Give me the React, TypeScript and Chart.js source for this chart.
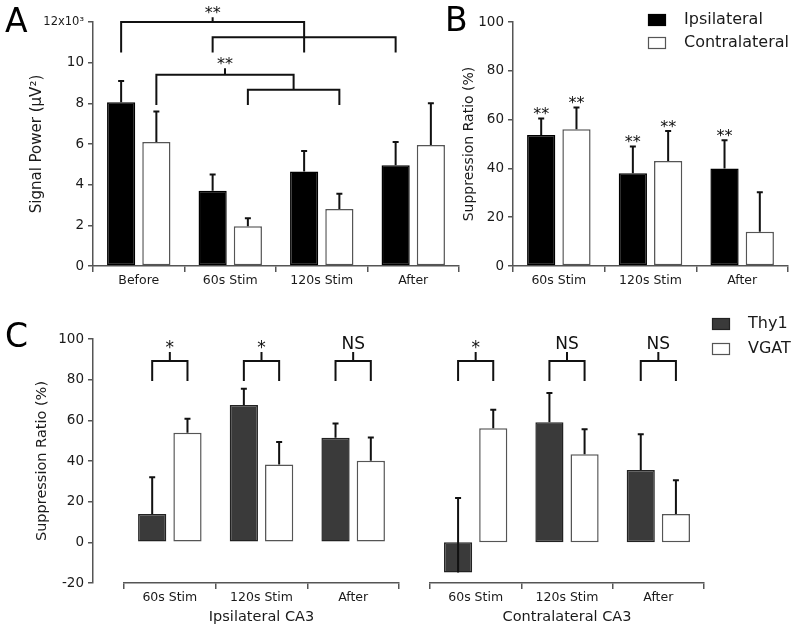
import React, { useEffect, useRef } from 'react';
import { Chart, registerables } from 'chart.js';

Chart.register(...registerables);

const FONT = '"DejaVu Sans", "Liberation Sans", sans-serif';
const TEXT = '#1a1a1a';
const AXIS = '#555555';
const INK = '#111111';

// ---------- Panel A ----------
const aCategories = ['Before', '60s Stim', '120s Stim', 'After'];
const aIpsi = [8.05, 3.7, 4.65, 4.95];
const aIpsiErr = [9.1, 4.5, 5.65, 6.1];
const aContra = [6.1, 1.95, 2.8, 5.95];
const aContraErr = [7.6, 2.35, 3.55, 8.0];
const aTickValues = [0, 2, 4, 6, 8, 10, 12];
const aTickLabels = ['0', '2', '4', '6', '8', '10', '12x10³'];
// brackets: [dataset, category] refs (or pair of refs = midpoint), values in axis units
const aBrackets = [
  { left: [0, 0], right: [0, 2], y: 12, leftEnd: 10.5, rightEnd: 10.5, tick: 12.23, label: '**' },
  { left: [0, 1], right: [0, 3], y: 11.25, leftEnd: 10.5, rightEnd: 10.5, tick: null, label: '' },
  { left: [1, 0], right: [[1, 1], [1, 2]], y: 9.41, leftEnd: 7.92, rightEnd: 8.67, tick: 9.72, label: '**' },
  { left: [1, 1], right: [1, 2], y: 8.67, leftEnd: 7.92, rightEnd: 7.92, tick: null, label: '' },
];

// ---------- Panel B ----------
const bCategories = ['60s Stim', '120s Stim', 'After'];
const bIpsi = [53.7, 38, 40];
const bIpsiErr = [60.5, 49, 51.5];
const bContra = [56, 43, 14];
const bContraErr = [65, 55.3, 30.2];
const bIpsiSig = ['**', '**', '**'];
const bContraSig = ['**', '**', ''];
const bTickValues = [0, 20, 40, 60, 80, 100];
const bTickLabels = ['0', '20', '40', '60', '80', '100'];

// ---------- Panel C ----------
const cCategories = ['60s Stim', '120s Stim', 'After'];
const cIpsiThy1 = [13.9, 67.6, 51.4];
const cIpsiThy1Err = [32, 75.5, 58.5];
const cIpsiVgat = [53.9, 38.3, 40.1];
const cIpsiVgatErr = [60.8, 49.3, 51.5];
const cContraThy1 = [-14.8, 59, 35.6];
const cContraThy1Err = [21.8, 73.5, 53.2];
const cContraVgat = [56.1, 43.3, 13.9];
const cContraVgatErr = [65.2, 55.6, 30.5];
const cIpsiSig = ['*', '*', 'NS'];
const cContraSig = ['*', 'NS', 'NS'];
const cTickValues = [-20, 0, 20, 40, 60, 80, 100];
const cTickLabels = ['-20', '0', '20', '40', '60', '80', '100'];
const cBracketY = 89.2;
const cBracketEnd = 79.3;
const cBracketTick = 93.6;

const BLACK = '#000000';
const WHITE = '#ffffff';
const THY1 = '#3a3a3a';

function drawInkBottom(ctx: CanvasRenderingContext2D, text: string, x: number, bottom: number) {
  ctx.textAlign = 'center';
  ctx.textBaseline = 'alphabetic';
  const m = ctx.measureText(text);
  ctx.fillText(text, x, bottom - m.actualBoundingBoxDescent);
}

function makeOverlay(cfg: any) {
  return {
    id: 'overlay',
    afterDraw(chart: any) {
      const ctx: CanvasRenderingContext2D = chart.ctx;
      const ys = chart.scales.y;
      const barX = (r: number[]) => chart.getDatasetMeta(r[0]).data[r[1]].x;
      const refX = (r: any) => (Array.isArray(r[0]) ? (barX(r[0]) + barX(r[1])) / 2 : barX(r));
      ctx.save();
      ctx.lineCap = 'butt';
      // error bars
      ctx.strokeStyle = INK;
      ctx.fillStyle = INK;
      ctx.lineWidth = 2;
      ctx.font = `${cfg.sigSize || 16}px ${FONT}`;
      (cfg.errors || []).forEach((errs: number[], di: number) => {
        const meta = chart.getDatasetMeta(di);
        meta.data.forEach((bar: any, i: number) => {
          const yTop = ys.getPixelForValue(errs[i]);
          ctx.beginPath();
          ctx.moveTo(bar.x, bar.y);
          ctx.lineTo(bar.x, yTop);
          ctx.moveTo(bar.x - 3, yTop);
          ctx.lineTo(bar.x + 3, yTop);
          ctx.stroke();
          const lab = cfg.sig && cfg.sig[di] ? cfg.sig[di][i] : '';
          if (lab) drawInkBottom(ctx, lab, bar.x, yTop - 3.5);
        });
      });
      // brackets
      (cfg.brackets || []).forEach((b: any) => {
        const xl = refX(b.left);
        const xr = refX(b.right);
        const y = ys.getPixelForValue(b.y);
        ctx.beginPath();
        ctx.moveTo(xl, ys.getPixelForValue(b.leftEnd));
        ctx.lineTo(xl, y);
        ctx.lineTo(xr, y);
        ctx.lineTo(xr, ys.getPixelForValue(b.rightEnd));
        if (b.tick != null) {
          const xm = (xl + xr) / 2;
          ctx.moveTo(xm, y);
          ctx.lineTo(xm, ys.getPixelForValue(b.tick));
        }
        ctx.stroke();
        if (b.label) {
          ctx.font = `${b.size || cfg.sigSize || 16}px ${FONT}`;
          drawInkBottom(ctx, b.label, (xl + xr) / 2, ys.getPixelForValue(b.tick) - 3);
        }
      });
      // panel letter
      if (cfg.letter) {
        ctx.fillStyle = '#000';
        ctx.font = `33px ${FONT}`;
        ctx.textAlign = 'left';
        ctx.textBaseline = 'alphabetic';
        ctx.fillText(cfg.letter.text, cfg.letter.x, cfg.letter.y);
      }
      // legend
      if (cfg.legend) {
        const L = cfg.legend;
        ctx.font = `16px ${FONT}`;
        ctx.textAlign = 'left';
        ctx.textBaseline = 'middle';
        L.items.forEach((it: any, k: number) => {
          const top = L.y + k * L.rowH;
          ctx.fillStyle = it.fill;
          ctx.fillRect(L.x, top, 18, 12);
          ctx.strokeStyle = it.border;
          ctx.lineWidth = 1.2;
          ctx.strokeRect(L.x + 0.5, top + 0.5, 17, 11);
          ctx.fillStyle = TEXT;
          ctx.fillText(it.label, L.x + 36, top + 6);
        });
      }
      ctx.restore();
    },
  };
}

function yAxis(o: any) {
  return {
    type: 'linear',
    position: 'left',
    display: true,
    min: o.min,
    max: o.max,
    weight: o.weight || 0,
    ticks: {
      stepSize: o.step,
      color: TEXT,
      padding: 4,
      font: (c: any) => ({ family: FONT, size: o.smallTop && c && c.tick && c.tick.value === o.max ? 11.5 : 13.5 }),
      callback: (v: number) => {
        const k = o.values.indexOf(v);
        return k >= 0 ? o.labels[k] : '';
      },
    },
    grid: { display: true, drawOnChartArea: false, drawTicks: true, tickLength: 5, color: AXIS, lineWidth: 1.5 },
    border: { display: true, color: AXIS, width: 1.5 },
    title: {
      display: true,
      text: o.title,
      color: TEXT,
      font: { family: FONT, size: o.titleSize },
      padding: { top: o.titlePad, bottom: 0 },
    },
    afterFit: (s: any) => {
      s.width = o.width;
    },
  };
}

function xAxis(o: any) {
  return {
    type: 'category',
    offset: true,
    ticks: { color: TEXT, font: { family: FONT, size: 12.5 }, padding: 1, maxRotation: 0, autoSkip: false },
    grid: { display: true, offset: true, drawOnChartArea: false, drawTicks: true, tickLength: 6, color: AXIS, lineWidth: 1.5 },
    border: { display: true, color: AXIS, width: 1.5 },
    title: {
      display: !!o.title,
      text: o.title || '',
      color: TEXT,
      font: { family: FONT, size: 14.5 },
      padding: { top: 0, bottom: o.titlePad || 0 },
    },
    afterFit: (s: any) => {
      s.height = o.height;
    },
  };
}

function ds(label: string, data: number[], fill: string, border: string) {
  return {
    label,
    data,
    backgroundColor: fill,
    borderColor: border,
    borderWidth: 1.5,
    borderSkipped: false,
    categoryPercentage: 0.77,
    barPercentage: 0.8,
  };
}

const baseOptions = (padding: any, scales: any) => ({
  responsive: false,
  animation: false,
  devicePixelRatio: 1,
  layout: { padding },
  plugins: { legend: { display: false }, tooltip: { enabled: false } },
  scales,
});

function makeA() {
  return {
    type: 'bar',
    data: {
      labels: aCategories,
      datasets: [ds('Ipsilateral', aIpsi, BLACK, BLACK), ds('Contralateral', aContra, WHITE, AXIS)],
    },
    options: baseOptions(
      { left: 0, top: 22, right: 11, bottom: 0 },
      {
        x: xAxis({ height: 34 }),
        y: yAxis({
          min: 0, max: 12, step: 2, values: aTickValues, labels: aTickLabels, smallTop: true,
          width: 93, title: 'Signal Power (μV²)', titleSize: 15, titlePad: 28,
        }),
      }
    ),
    plugins: [
      makeOverlay({
        errors: [aIpsiErr, aContraErr],
        brackets: aBrackets,
        sigSize: 16,
        letter: { text: 'A', x: 5, y: 32 },
      }),
    ],
  };
}

function makeB() {
  return {
    type: 'bar',
    data: {
      labels: bCategories,
      datasets: [ds('Ipsilateral', bIpsi, BLACK, BLACK), ds('Contralateral', bContra, WHITE, AXIS)],
    },
    options: baseOptions(
      { left: 0, top: 22, right: 12, bottom: 0 },
      {
        x: xAxis({ height: 34 }),
        y: yAxis({
          min: 0, max: 100, step: 20, values: bTickValues, labels: bTickLabels,
          width: 73, title: 'Suppression Ratio (%)', titleSize: 14, titlePad: 21,
        }),
      }
    ),
    plugins: [
      makeOverlay({
        errors: [bIpsiErr, bContraErr],
        sig: [bIpsiSig, bContraSig],
        sigSize: 16,
        letter: { text: 'B', x: 5, y: 31 },
        legend: {
          x: 208, y: 14, rowH: 23,
          items: [
            { label: 'Ipsilateral', fill: BLACK, border: BLACK },
            { label: 'Contralateral', fill: WHITE, border: AXIS },
          ],
        },
      }),
    ],
  };
}

function cBrackets(labels: string[]) {
  return labels.map((label, i) => ({
    left: [0, i], right: [1, i], y: cBracketY, leftEnd: cBracketEnd, rightEnd: cBracketEnd,
    tick: cBracketTick, label, size: label === 'NS' ? 17 : 17,
  }));
}

function makeCLeft() {
  return {
    type: 'bar',
    data: {
      labels: cCategories,
      datasets: [ds('Thy1', cIpsiThy1, THY1, '#222'), ds('VGAT', cIpsiVgat, WHITE, AXIS)],
    },
    options: baseOptions(
      { left: 0, top: 39, right: 21, bottom: 0 },
      {
        x: xAxis({ height: 47, title: 'Ipsilateral CA3', titlePad: 4 }),
        y: yAxis({
          min: -20, max: 100, step: 20, values: cTickValues, labels: cTickLabels, weight: 2,
          width: 93, title: 'Suppression Ratio (%)', titleSize: 14.5, titlePad: 34,
        }),
        y2: {
          type: 'linear', position: 'left', weight: 1, display: true,
          grid: { display: false }, border: { display: false }, ticks: { display: false },
          afterFit: (s: any) => { s.width = 31; },
        },
      }
    ),
    plugins: [
      makeOverlay({
        errors: [cIpsiThy1Err, cIpsiVgatErr],
        brackets: cBrackets(cIpsiSig),
        letter: { text: 'C', x: 5, y: 47 },
      }),
    ],
  };
}

function makeCRight() {
  return {
    type: 'bar',
    data: {
      labels: cCategories,
      datasets: [ds('Thy1', cContraThy1, THY1, '#222'), ds('VGAT', cContraVgat, WHITE, AXIS)],
    },
    options: baseOptions(
      { left: 30, top: 39, right: 96, bottom: 0 },
      {
        x: xAxis({ height: 47, title: 'Contralateral CA3', titlePad: 4 }),
        y: { type: 'linear', display: false, min: -20, max: 100 },
      }
    ),
    plugins: [
      makeOverlay({
        errors: [cContraThy1Err, cContraVgatErr],
        brackets: cBrackets(cContraSig),
        legend: {
          x: 312, y: 18, rowH: 25,
          items: [
            { label: 'Thy1', fill: THY1, border: '#222' },
            { label: 'VGAT', fill: WHITE, border: AXIS },
          ],
        },
      }),
    ],
  };
}

function ChartBox({ left, top, width, height, make }: { left: number; top: number; width: number; height: number; make: () => any }) {
  const ref = useRef<HTMLCanvasElement>(null);
  useEffect(() => {
    const chart = new Chart(ref.current as HTMLCanvasElement, make());
    return () => chart.destroy();
  }, []);
  return (
    <canvas
      ref={ref}
      width={width}
      height={height}
      style={{ position: 'absolute', left, top, width, height }}
    />
  );
}

export default function App() {
  return (
    <div style={{ position: 'absolute', left: 0, top: 0, width: 800, height: 630, background: '#fff', overflow: 'hidden' }}>
      <ChartBox left={0} top={0} width={470} height={300} make={makeA} />
      <ChartBox left={440} top={0} width={360} height={300} make={makeB} />
      <ChartBox left={0} top={300} width={420} height={330} make={makeCLeft} />
      <ChartBox left={400} top={300} width={400} height={330} make={makeCRight} />
    </div>
  );
}
